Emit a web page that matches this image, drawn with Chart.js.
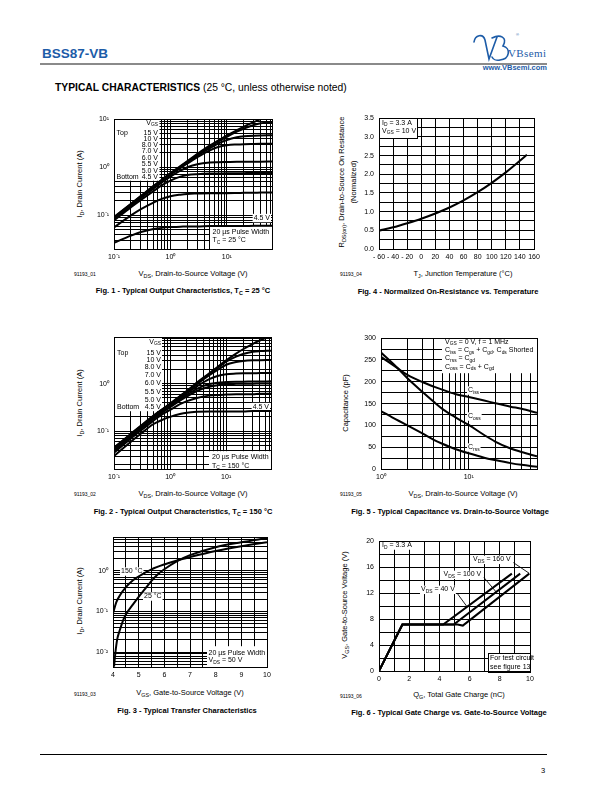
<!DOCTYPE html>
<html>
<head>
<meta charset="utf-8">
<title>BSS87-VB typical characteristics</title>
<script src="https://cdn.jsdelivr.net/npm/chart.js@4.4.1/dist/chart.umd.min.js"></script>
<style>
  body { margin: 0; background: #fff; }
  #page { position: relative; width: 612px; height: 792px; overflow: hidden; background: #fff;
          font-family: "Liberation Sans", Arial, Helvetica, sans-serif; color: #000; }
  .a { position: absolute; white-space: nowrap; line-height: 1; }
  .c { transform: translate(-50%, -50%); }
  .r { transform: translate(-50%, -50%) rotate(-90deg); }
  .l { transform: translateY(-50%); }
  .ax { font-size: 7.5px; }
  .cap { font-size: 7.5px; font-weight: bold; }
  .code { font-size: 5px; }
  sub { font-size: 0.72em; vertical-align: -0.35em; line-height: 0; }
  canvas { position: absolute; }
</style>
</head>
<body>
<div id="page">
  <div class="a" style="left:42px;top:47px;font-size:13.5px;font-weight:bold;color:#1d5ca8;">BSS87-VB</div>
  <div class="a" style="left:40px;top:63px;width:507px;height:2px;background:#8a8a8a;"></div>
  <svg class="a" style="left:468px;top:30px" width="84" height="34" viewBox="468 30 84 34">
    <g fill="none" stroke="#1d5ca8" stroke-width="1.6" stroke-linecap="round">
      <path d="M474 42 C475 35 483 33 485 40 L489 59 L497 37"/>
      <path d="M492 38 C500 34 508 37 503 46 C511 48 510 59 500 60 C496 61 493 59 492 57"/>
    </g>
    <text x="508" y="57" font-family="Liberation Serif, serif" font-size="11" letter-spacing="0.4" fill="#1d5ca8">VBsemi</text>
    <text x="516" y="36" font-family="Liberation Sans, sans-serif" font-size="4" fill="#1d5ca8">®</text>
  </svg>
  <div class="a" style="right:65px;top:64px;font-size:7.5px;font-weight:bold;color:#1d5ca8;">www.VBsemi.com</div>
  <div class="a" style="left:55px;top:83px;font-size:10.3px;"><b>TYPICAL CHARACTERISTICS</b> (25 °C, unless otherwise noted)</div>

  <!-- Fig. 1 texts -->
  <div class="a r ax" style="left:80px;top:184px;">I<sub>D</sub>, Drain Current (A)</div>
  <div class="a c ax" style="left:193px;top:274px;">V<sub>DS</sub>, Drain-to-Source Voltage (V)</div>
  <div class="a l code" style="left:74px;top:274px;">91193_01</div>
  <div class="a c cap" style="left:183px;top:291px;">Fig. 1 - Typical Output Characteristics, T<sub>C</sub> = 25 °C</div>

  <!-- Fig. 4 texts -->
  <div class="a r ax" style="left:342px;top:182px;">R<sub>DS(on)</sub>, Drain-to-Source On Resistance</div>
  <div class="a r ax" style="left:354px;top:182px;">(Normalized)</div>
  <div class="a c ax" style="left:463px;top:274px;">T<sub>J</sub>, Junction Temperature (°C)</div>
  <div class="a l code" style="left:340px;top:274px;">91193_04</div>
  <div class="a c cap" style="left:448px;top:292px;">Fig. 4 - Normalized On-Resistance vs. Temperature</div>

  <!-- Fig. 2 texts -->
  <div class="a r ax" style="left:80px;top:403px;">I<sub>D</sub>, Drain Current (A)</div>
  <div class="a c ax" style="left:193px;top:494px;">V<sub>DS</sub>, Drain-to-Source Voltage (V)</div>
  <div class="a l code" style="left:74px;top:494px;">91193_02</div>
  <div class="a c cap" style="left:183px;top:512px;">Fig. 2 - Typical Output Characteristics, T<sub>C</sub> = 150 °C</div>

  <!-- Fig. 5 texts -->
  <div class="a r ax" style="left:346px;top:403px;">Capacitance (pF)</div>
  <div class="a c ax" style="left:463px;top:494px;">V<sub>DS</sub>, Drain-to-Source Voltage (V)</div>
  <div class="a l code" style="left:340px;top:494px;">91193_05</div>
  <div class="a c cap" style="left:450px;top:512px;">Fig. 5 - Typical Capacitance vs. Drain-to-Source Voltage</div>

  <!-- Fig. 3 texts -->
  <div class="a r ax" style="left:80px;top:601px;">I<sub>D</sub>, Drain Current (A)</div>
  <div class="a c ax" style="left:190px;top:693px;">V<sub>GS</sub>, Gate-to-Source Voltage (V)</div>
  <div class="a l code" style="left:74px;top:694px;">91193_03</div>
  <div class="a c cap" style="left:187px;top:711px;">Fig. 3 - Typical Transfer Characteristics</div>

  <!-- Fig. 6 texts -->
  <div class="a r ax" style="left:345px;top:605px;">V<sub>GS</sub>, Gate-to-Source Voltage (V)</div>
  <div class="a c ax" style="left:459px;top:695px;">Q<sub>G</sub>, Total Gate Charge (nC)</div>
  <div class="a l code" style="left:340px;top:696px;">91193_06</div>
  <div class="a c cap" style="left:449px;top:713px;">Fig. 6 - Typical Gate Charge vs. Gate-to-Source Voltage</div>

  <div class="a" style="left:40px;top:754px;width:507px;height:1px;background:#000;"></div>
  <div class="a" style="left:541px;top:767px;font-size:7.5px;">3</div>
</div>

<script>
const FONT = '"Liberation Sans", Arial, Helvetica, sans-serif';

// Fig. 1 - output characteristics, TC = 25 °C (ID in A vs VDS in V)
const vds = [0.1, 0.2, 0.3, 0.5, 0.7, 1, 1.5, 2, 3, 5, 7, 10, 15, 20, 30, 40, 63];
const id25_15 = [0.092, 0.175, 0.255, 0.41, 0.55, 0.76, 1.06, 1.35, 1.9, 2.85, 3.6, 4.6, 5.9, 7.0, 8.7, 10.1, 12.8];
const id25_10 = [0.09, 0.172, 0.25, 0.4, 0.54, 0.74, 1.03, 1.31, 1.83, 2.7, 3.4, 4.3, 5.5, 6.4, 7.6, 8.2, 8.6];
const id25_8 = [0.088, 0.168, 0.245, 0.39, 0.53, 0.72, 1.0, 1.26, 1.74, 2.5, 3.1, 3.7, 4.2, 4.4, 4.55, 4.6, 4.65];
const id25_7 = [0.086, 0.164, 0.24, 0.38, 0.51, 0.7, 0.96, 1.2, 1.62, 2.25, 2.65, 2.88, 2.98, 3.02, 3.05, 3.07, 3.1];
const id25_6 = [0.083, 0.158, 0.23, 0.36, 0.48, 0.64, 0.85, 1.0, 1.16, 1.26, 1.28, 1.29, 1.3, 1.3, 1.31, 1.31, 1.32];
const id25_55 = [0.078, 0.148, 0.21, 0.32, 0.42, 0.53, 0.64, 0.69, 0.72, 0.74, 0.745, 0.75, 0.75, 0.755, 0.76, 0.76, 0.76];
const id25_5 = [0.056, 0.1, 0.135, 0.185, 0.22, 0.25, 0.27, 0.28, 0.285, 0.29, 0.29, 0.29, 0.292, 0.294, 0.296, 0.298, 0.3];
const id25_45 = [0.027, 0.038, 0.045, 0.052, 0.055, 0.057, 0.058, 0.059, 0.059, 0.06, 0.06, 0.06, 0.06, 0.06, 0.061, 0.061, 0.061];

// Fig. 2 - output characteristics, TC = 150 °C
const id150_15 = [0.045, 0.088, 0.13, 0.21, 0.28, 0.38, 0.55, 0.71, 1.05, 1.65, 2.25, 3.1, 4.3, 5.3, 6.9, 8.1, 10.2];
const id150_10 = [0.044, 0.086, 0.127, 0.205, 0.275, 0.37, 0.54, 0.69, 1.0, 1.6, 2.15, 2.9, 3.7, 4.2, 4.7, 4.85, 4.95];
const id150_8 = [0.043, 0.084, 0.124, 0.2, 0.27, 0.36, 0.52, 0.67, 0.97, 1.5, 1.95, 2.5, 2.85, 3.0, 3.1, 3.12, 3.15];
const id150_7 = [0.042, 0.082, 0.12, 0.195, 0.26, 0.35, 0.5, 0.63, 0.88, 1.25, 1.45, 1.58, 1.63, 1.65, 1.66, 1.67, 1.68];
const id150_6 = [0.04, 0.079, 0.116, 0.19, 0.25, 0.34, 0.47, 0.58, 0.78, 0.98, 1.05, 1.08, 1.1, 1.1, 1.11, 1.11, 1.12];
const id150_55 = [0.038, 0.076, 0.112, 0.18, 0.24, 0.32, 0.44, 0.54, 0.7, 0.86, 0.93, 0.97, 0.99, 1.0, 1.0, 1.01, 1.01];
const id150_5 = [0.035, 0.07, 0.103, 0.165, 0.22, 0.28, 0.37, 0.43, 0.5, 0.56, 0.58, 0.59, 0.6, 0.6, 0.6, 0.61, 0.61];
const id150_45 = [0.03, 0.06, 0.088, 0.14, 0.17, 0.2, 0.23, 0.245, 0.255, 0.26, 0.26, 0.26, 0.26, 0.26, 0.265, 0.265, 0.265];

// Fig. 3 - transfer characteristics, VDS = 50 V
const vgs25 = [4.04, 4.09, 4.16, 4.26, 4.39, 4.52, 4.78, 5.0, 5.25, 5.5, 5.75, 6.0, 6.5, 7.0, 8.0, 9.0, 10.0];
const idT25 = [0.0044, 0.0093, 0.02, 0.034, 0.06, 0.088, 0.15, 0.23, 0.36, 0.57, 0.83, 1.1, 1.75, 2.45, 3.85, 5.1, 6.5];
const vgs150 = [4.0, 4.13, 4.26, 4.52, 4.78, 5.0, 5.25, 5.5, 6.0, 6.5, 7.0, 8.0, 9.0, 10.0];
const idT150 = [0.09, 0.17, 0.245, 0.41, 0.59, 0.73, 0.91, 1.1, 1.45, 1.82, 2.2, 3.1, 4.07, 5.1];

// Fig. 4 - normalized on-resistance vs junction temperature
const tj = [-60, -40, -20, 0, 20, 40, 60, 80, 100, 120, 140, 150];
const rdsNorm = [0.49, 0.58, 0.69, 0.81, 0.95, 1.11, 1.3, 1.52, 1.77, 2.05, 2.36, 2.52];

// Fig. 5 - capacitance vs VDS (pF)
const vdsCap = [1, 1.5, 2, 3, 4, 5, 7, 10, 15, 20, 30, 40, 60];
const ciss = [257, 233, 216, 199, 189, 182, 172, 165, 157, 151, 143, 138, 129];
const coss = [267, 234, 208, 176, 154, 138, 119, 101, 78, 63, 47, 39, 29];
const crss = [133, 113, 100, 81, 67, 58, 46, 36, 26, 20.5, 13.5, 9.5, 5];

// Fig. 6 - gate charge (nC) vs VGS (V)
const qg40 = [0, 1.55, 4.25, 8.8];
const vgsQ40 = [0, 7.15, 7.15, 15];
const qg100 = [0, 1.55, 4.95, 9.35];
const vgsQ100 = [0, 7.15, 7.15, 15];
const qg160 = [0, 1.55, 5.2, 5.55, 9.95];
const vgsQ160 = [0, 7.15, 7.15, 7.0, 15];

// tick labels
const decadeTicks = [0.01, 0.1, 1, 10];
const decadeLabels = ['10⁻²', '10⁻¹', '10⁰', '10¹'];
const tempTicks = [-60, -40, -20, 0, 20, 40, 60, 80, 100, 120, 140, 160];
const tempLabels = ['- 60', '- 40', '- 20', '0', '20', '40', '60', '80', '100', '120', '140', '160'];
const rdsTicks = [0, 0.5, 1, 1.5, 2, 2.5, 3, 3.5];
const rdsLabels = ['0.0', '0.5', '1.0', '1.5', '2.0', '2.5', '3.0', '3.5'];
const capTicks = [0, 50, 100, 150, 200, 250, 300];
const capLabels = ['0', '50', '100', '150', '200', '250', '300'];
const vgsTicks = [4, 5, 6, 7, 8, 9, 10];
const vgsLabels = ['4', '5', '6', '7', '8', '9', '10'];
const qgTicks = [0, 2, 4, 6, 8, 10];
const qgLabels = ['0', '2', '4', '6', '8', '10'];
const gateTicks = [0, 4, 8, 12, 16, 20];
const gateLabels = ['0', '4', '8', '12', '16', '20'];

function pick(vals, labels) {
  return v => {
    const i = vals.findIndex(t => Math.abs(t - v) <= Math.abs(t) * 1e-6 + 1e-9);
    return i < 0 ? '' : labels[i];
  };
}

// log grid: 1..9 in every decade, plus the two ends
function logGrid(min, max) {
  const out = [min];
  for (let e = -3; e <= 2; e++) {
    for (let m = 1; m <= 9; m++) {
      const v = +(m * Math.pow(10, e)).toPrecision(6);
      if (v > min * 1.0001 && v < max * 0.9999) out.push(v);
    }
  }
  out.push(max);
  return out;
}

function baseAxis(dir) {
  return {
    grid: { color: '#000', lineWidth: 1, drawTicks: false },
    border: { color: '#000', width: 1 },
    ticks: { color: '#000', font: { family: FONT, size: 7 }, padding: dir === 'x' ? 4 : 5,
             autoSkip: false, maxRotation: 0, minRotation: 0 },
    afterFit: dir === 'x' ? s => { s.height = 16; } : s => { s.width = 30; }
  };
}

function logAxis(dir, min, max) {
  const ax = baseAxis(dir);
  ax.type = 'logarithmic';
  ax.min = min;
  ax.max = max;
  ax.afterBuildTicks = s => { s.ticks = logGrid(min, max).map(v => ({ value: v })); };
  ax.ticks.callback = pick(decadeTicks, decadeLabels);
  return ax;
}

function linAxis(dir, min, max, step, tv, tl) {
  const ax = baseAxis(dir);
  ax.type = 'linear';
  ax.min = min;
  ax.max = max;
  ax.ticks.stepSize = step;
  ax.ticks.callback = pick(tv, tl);
  return ax;
}

function series(xs, ys, smooth) {
  return {
    data: xs.map((x, i) => ({ x: x, y: ys[i] })),
    borderColor: '#000', borderWidth: 2, pointRadius: 0, fill: false,
    cubicInterpolationMode: smooth ? 'monotone' : 'default', tension: 0
  };
}

function drawRich(ctx, str, x, y, size, align, bg) {
  const segs = [];
  const re = /_\{([^}]*)\}/g;
  let last = 0, m;
  while ((m = re.exec(str))) {
    if (m.index > last) segs.push([str.slice(last, m.index), 0]);
    segs.push([m[1], 1]);
    last = re.lastIndex;
  }
  if (last < str.length) segs.push([str.slice(last), 0]);
  const fN = size + 'px ' + FONT, fS = (size * 0.7) + 'px ' + FONT;
  let w = 0;
  segs.forEach(s => { ctx.font = s[1] ? fS : fN; s.push(ctx.measureText(s[0]).width); w += s[2]; });
  let x0 = align === 'right' ? x - w : x;
  if (bg) {
    ctx.fillStyle = '#fff';
    ctx.fillRect(x0 - 1, y - size * 0.55, w + 2, size * 1.2);
  }
  ctx.fillStyle = '#000';
  ctx.textAlign = 'left';
  ctx.textBaseline = 'middle';
  segs.forEach(s => {
    ctx.font = s[1] ? fS : fN;
    ctx.fillText(s[0], x0, s[1] ? y + size * 0.3 : y);
    x0 += s[2];
  });
}

// white boxes, labels and pointer lines; page coords are mapped onto the chart area
function notesPlugin(box, notes) {
  return {
    id: 'notes',
    beforeDatasetsDraw(chart) {
      const ctx = chart.ctx, a = chart.chartArea;
      const px = x => a.left + (x - box.L), py = y => a.top + (y - box.T);
      ctx.save();
      (notes.rects || []).forEach(r => {
        ctx.fillStyle = '#fff';
        ctx.fillRect(px(r[0]), py(r[1]), r[2] - r[0], r[3] - r[1]);
        if (r[4]) {
          ctx.strokeStyle = '#000';
          ctx.lineWidth = 1;
          ctx.strokeRect(Math.round(px(r[0])) + 0.5, Math.round(py(r[1])) + 0.5, r[2] - r[0], r[3] - r[1]);
        }
      });
      (notes.arrows || []).forEach(l => {
        const sx = chart.scales.x, sy = chart.scales.y;
        ctx.strokeStyle = '#000';
        ctx.lineWidth = 0.9;
        ctx.beginPath();
        ctx.moveTo(sx.getPixelForValue(l[0]), sy.getPixelForValue(l[1]));
        ctx.lineTo(sx.getPixelForValue(l[2]), sy.getPixelForValue(l[3]));
        ctx.stroke();
      });
      (notes.texts || []).forEach(t => drawRich(ctx, t[0], px(t[1]), py(t[2]), 7, t[3], t[4]));
      ctx.restore();
    },
    afterDraw(chart) {
      const ctx = chart.ctx, a = chart.chartArea;
      const l = Math.round(a.left - 0.5) + 0.5, t = Math.round(a.top - 0.5) + 0.5;
      const r = Math.round(a.right - 0.5) + 0.5, b = Math.round(a.bottom - 0.5) + 0.5;
      ctx.save();
      ctx.strokeStyle = '#000';
      ctx.lineWidth = 1;
      ctx.strokeRect(l, t, r - l, b - t);
      ctx.restore();
    }
  };
}

function makeChart(box, datasets, xAxis, yAxis, notes) {
  const cv = document.createElement('canvas');
  const w = (box.R - box.L) + 42, h = (box.B - box.T) + 24;
  cv.width = w;
  cv.height = h;
  cv.style.left = (box.L - 30) + 'px';
  cv.style.top = (box.T - 8) + 'px';
  cv.style.width = w + 'px';
  cv.style.height = h + 'px';
  document.getElementById('page').appendChild(cv);
  return new Chart(cv, {
    type: 'line',
    data: { datasets: datasets },
    options: {
      responsive: false, animation: false, devicePixelRatio: 1, events: [],
      layout: { autoPadding: false, padding: { top: 8, right: 12, left: 0, bottom: 0 } },
      plugins: { legend: { display: false }, tooltip: { enabled: false } },
      scales: { x: xAxis, y: yAxis }
    },
    plugins: [notesPlugin(box, notes)]
  });
}

// Fig. 1
makeChart({ L: 114, T: 118, R: 272, B: 249 },
  [id25_15, id25_10, id25_8, id25_7, id25_6, id25_55, id25_5, id25_45].map(ys => series(vds, ys, true)),
  logAxis('x', 0.1, 63), logAxis('y', 0.02, 10),
  {
    rects: [[114, 118, 159.5, 179.5], [210, 225, 272, 249]],
    texts: [
      ['V_{GS}', 158, 121.5, 'right'], ['Top', 116.5, 132, 'left'],
      ['15 V', 158, 132.3, 'right'], ['10 V', 158, 138, 'right'], ['8.0 V', 158, 144, 'right'],
      ['7.0 V', 158, 149.6, 'right'], ['6.0 V', 158, 157, 'right'], ['5.5 V', 158, 162.4, 'right'],
      ['5.0 V', 158, 170, 'right'], ['4.5 V', 158, 176, 'right'], ['Bottom', 116.5, 176, 'left'],
      ['4.5 V', 270, 216.5, 'right', true],
      ['20 µs Pulse Width', 212.5, 230.5, 'left'], ['T_{C} = 25 °C', 212.5, 239, 'left']
    ]
  });

// Fig. 4
makeChart({ L: 379, T: 117, R: 534, B: 249 },
  [series(tj, rdsNorm, true)],
  linAxis('x', -60, 160, 20, tempTicks, tempLabels), linAxis('y', 0, 3.5, 0.25, rdsTicks, rdsLabels),
  {
    rects: [[379, 117, 417, 137, true]],
    texts: [['I_{D} = 3.3 A', 382, 121.5, 'left'], ['V_{GS} = 10 V', 382, 129.5, 'left']]
  });

// Fig. 2
makeChart({ L: 114, T: 336, R: 271, B: 469 },
  [id150_15, id150_10, id150_8, id150_7, id150_6, id150_55, id150_5, id150_45].map(ys => series(vds, ys, true)),
  logAxis('x', 0.1, 63), logAxis('y', 0.016, 9.5),
  {
    rects: [[114, 336, 162, 410], [209, 450, 271, 469]],
    texts: [
      ['V_{GS}', 161, 340.5, 'right'], ['Top', 117, 352, 'left'],
      ['15 V', 161, 352, 'right'], ['10 V', 161, 359, 'right'], ['8.0 V', 161, 366, 'right'],
      ['7.0 V', 161, 374, 'right'], ['6.0 V', 161, 381.7, 'right'], ['5.5 V', 161, 391, 'right'],
      ['5.0 V', 161, 398.5, 'right'], ['4.5 V', 161, 406.3, 'right'], ['Bottom', 117, 406.3, 'left'],
      ['4.5 V', 269, 405.5, 'right', true],
      ['20 µs Pulse Width', 212, 456, 'left'], ['T_{C} = 150 °C', 212, 464.5, 'left']
    ]
  });

// Fig. 5
makeChart({ L: 381, T: 337, R: 537, B: 469 },
  [series(vdsCap, ciss, true), series(vdsCap, coss, true), series(vdsCap, crss, true)],
  logAxis('x', 1, 60), linAxis('y', 0, 300, 25, capTicks, capLabels),
  {
    rects: [[442, 337, 537, 372]],
    texts: [
      ['V_{GS} = 0 V, f = 1 MHz', 445, 340.5, 'left'],
      ['C_{iss} = C_{gs} + C_{gd}, C_{ds} Shorted', 445, 349, 'left'],
      ['C_{rss} = C_{gd}', 445, 357.3, 'left'],
      ['C_{oss} = C_{ds} + C_{gd}', 445, 365.7, 'left'],
      ['C_{iss}', 468, 389, 'left', true], ['C_{oss}', 468, 415, 'left', true], ['C_{rss}', 468, 446, 'left', true]
    ]
  });

// Fig. 3
makeChart({ L: 113, T: 536, R: 267, B: 667 },
  [series(vgs25, idT25, true), series(vgs150, idT150, true)],
  linAxis('x', 4, 10, 0.5, vgsTicks, vgsLabels), logAxis('y', 0.0043, 6.8),
  {
    rects: [[207, 645, 267, 667]],
    texts: [
      ['150 °C', 142.5, 570, 'right', true], ['25 °C', 144, 595, 'left', true],
      ['20 µs Pulse Width', 208.5, 651.5, 'left'], ['V_{DS} = 50 V', 208.5, 659, 'left']
    ]
  });

// Fig. 6
makeChart({ L: 379, T: 540, R: 530, B: 671 },
  [series(qg40, vgsQ40, false), series(qg100, vgsQ100, false), series(qg160, vgsQ160, false)],
  linAxis('x', 0, 10, 1, qgTicks, qgLabels), linAxis('y', 0, 20, 2, gateTicks, gateLabels),
  {
    rects: [[488, 652, 530, 671, true]],
    arrows: [[8.9, 16.7, 9.95, 15.05], [6.95, 14.4, 7.75, 12.2], [5.2, 11.9, 5.8, 10.0]],
    texts: [
      ['I_{D} = 3.3 A', 382, 544, 'left', true],
      ['V_{DS} = 160 V', 473, 558.3, 'left', true],
      ['V_{DS} = 100 V', 443.5, 573.3, 'left', true],
      ['V_{DS} = 40 V', 421, 588.3, 'left', true],
      ['For test circuit', 490, 657, 'left'], ['see figure 13', 490, 665.5, 'left']
    ]
  });
</script>
</body>
</html>
